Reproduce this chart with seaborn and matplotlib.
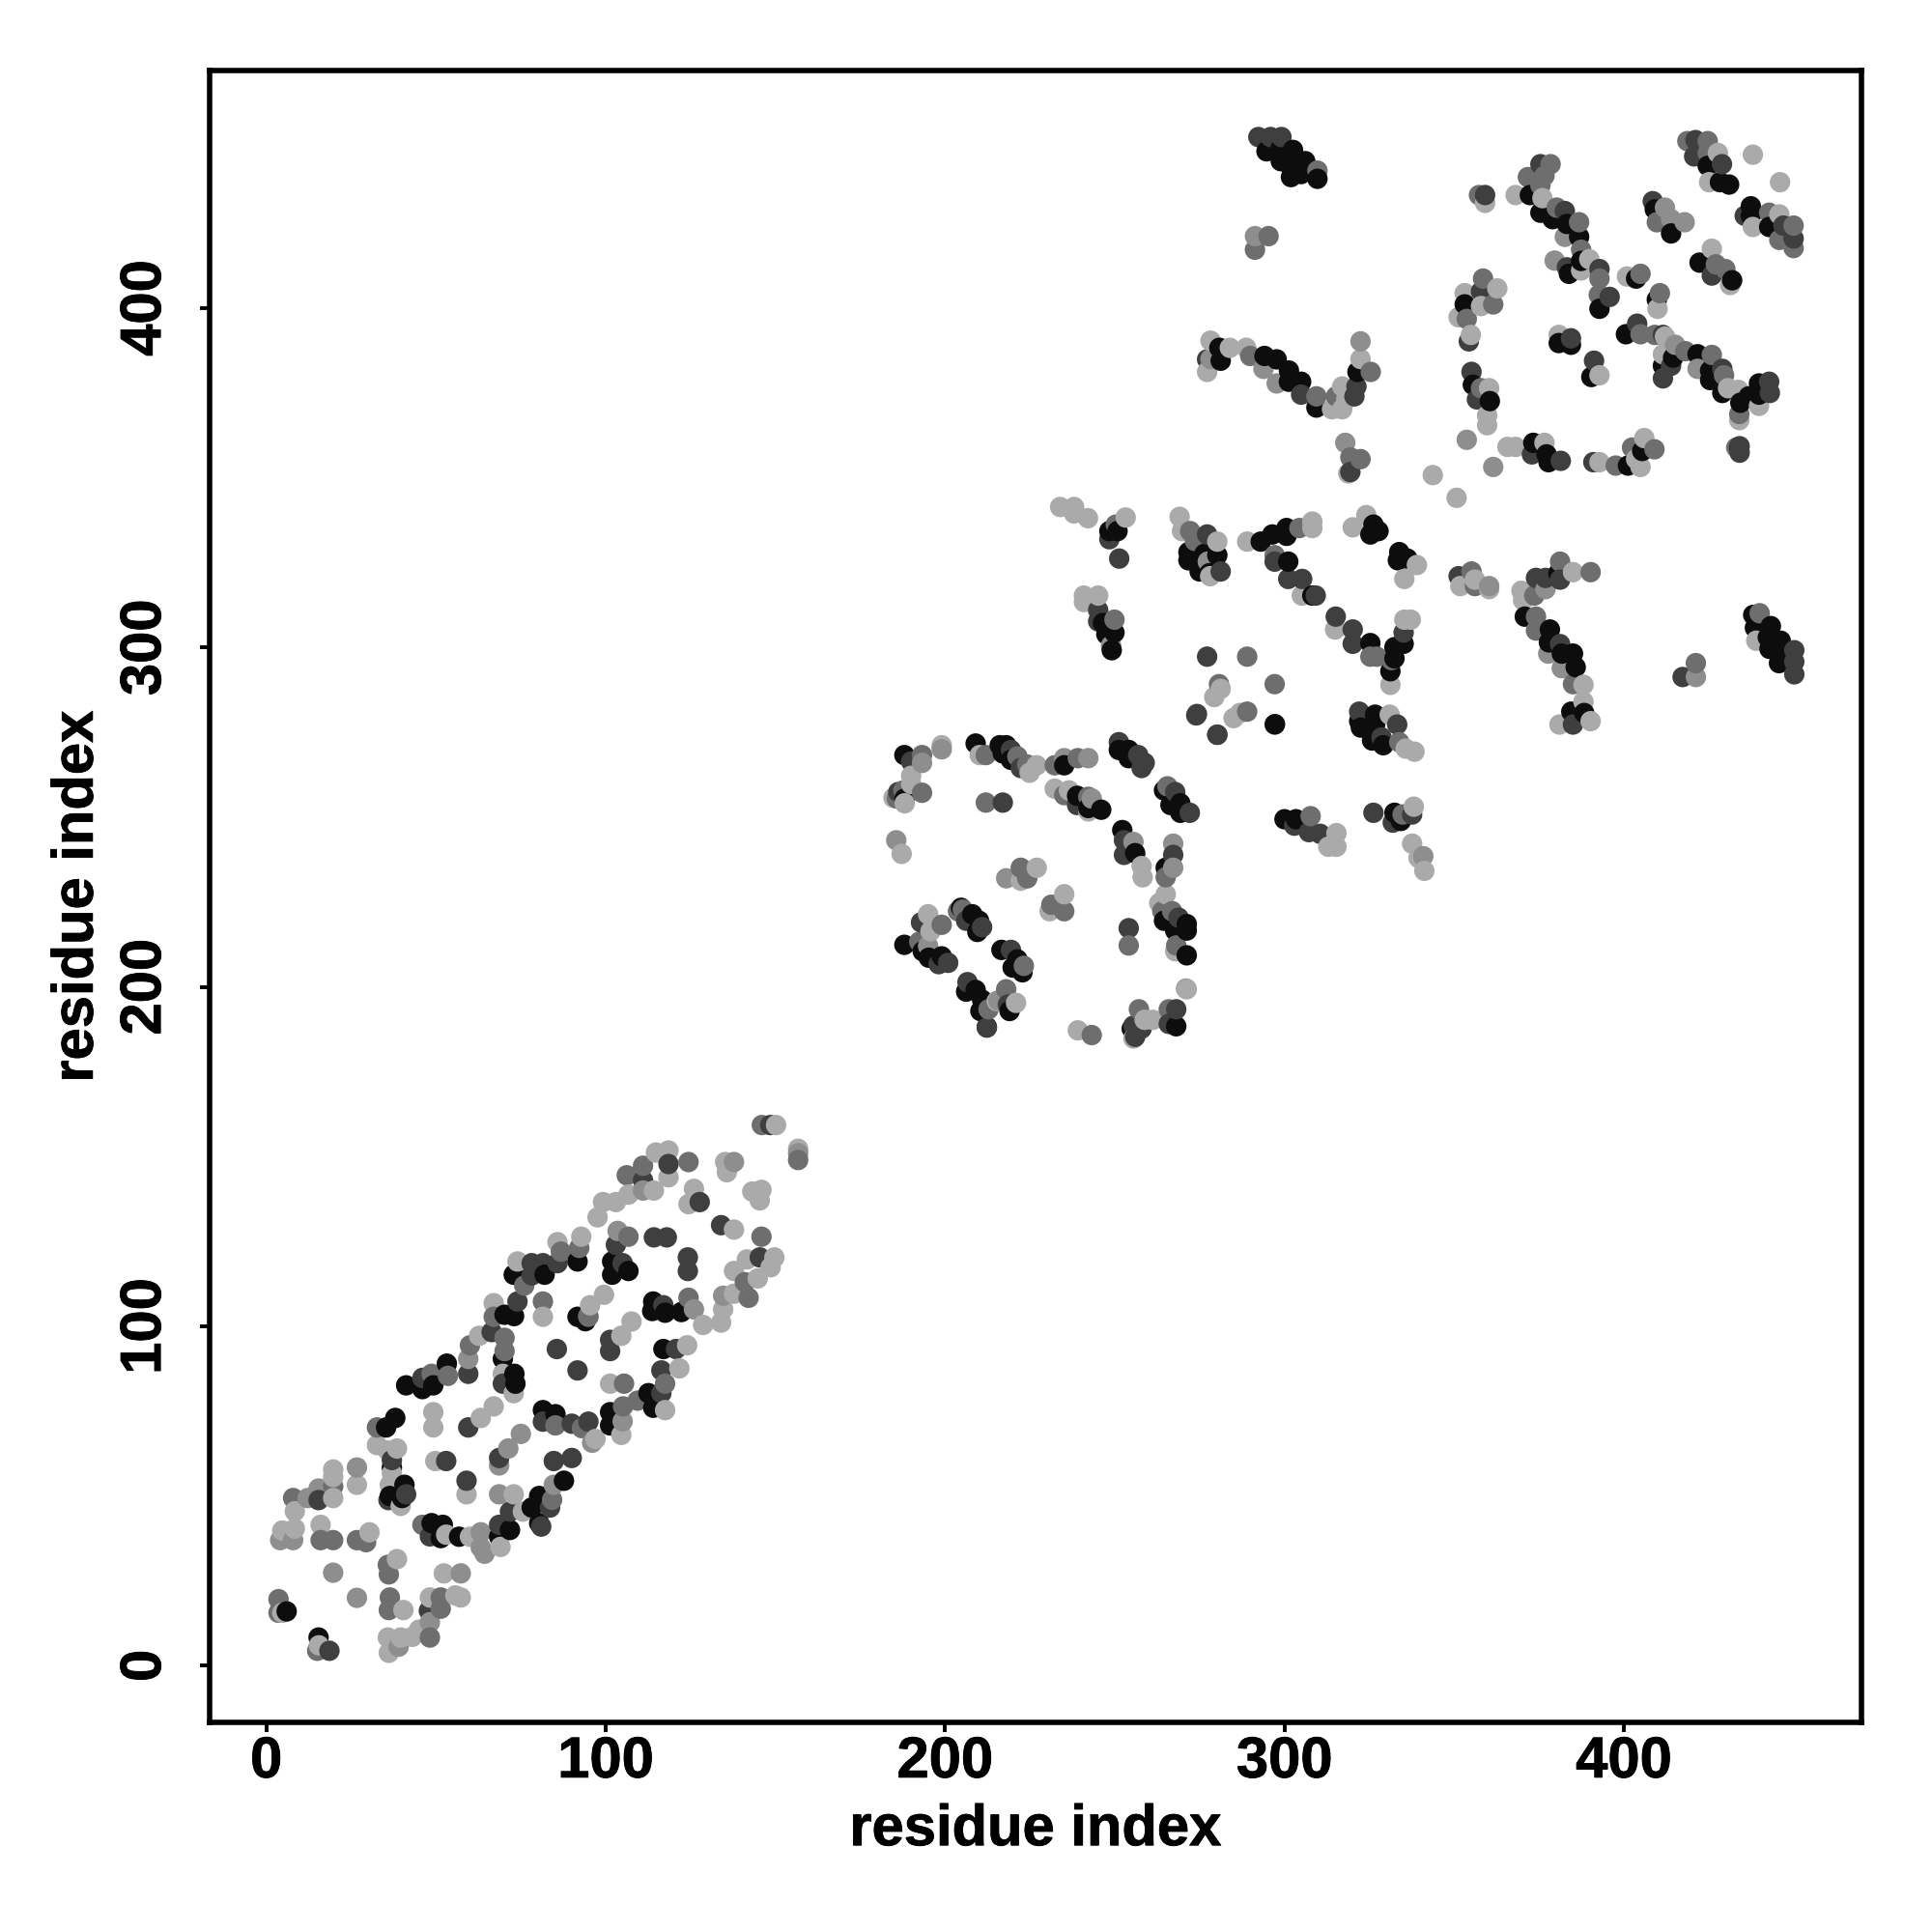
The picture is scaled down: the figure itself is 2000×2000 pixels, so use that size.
import pandas as pd
import matplotlib
matplotlib.use("Agg")
import matplotlib.pyplot as plt
import matplotlib.patheffects as pe
import seaborn as sns

sns.set_theme(style="white")
plt.rcParams['font.family'] = ['Liberation Sans', 'DejaVu Sans']

tick_values = [0, 100, 200, 300, 400]
axis_label = "residue index"

# contacts, one list per grey level
black_pts = [
    (6, 16), (15.4, 8.3), (35.3, 70.2), (38, 73), (37, 58.4), (36.4, 50), (40.7, 53.3), (40, 49.4),
    (48.7, 42), (52, 41.5), (51.4, 37.6), (56.8, 38), (68.6, 38), (71.8, 40), (80.4, 42), (78.2, 46.6),
    (80.4, 50), (87.7, 54.5), (41.2, 82.6), (46, 81.5), (49.2, 82.6), (53.2, 89), (69.7, 90.4),
    (73.1, 86), (73.4, 83.1), (70.2, 103.4), (73, 103), (72.9, 115.2), (82, 115.2), (91.7, 119.1),
    (91.7, 102.8), (94, 101.5), (81.5, 75.3), (85.2, 74.1), (101.3, 74.7), (101.3, 70.8), (112.6, 80.3),
    (114, 76), (117, 93.3), (114, 107.3), (113.7, 104.5), (117.5, 104), (122.3, 104.2), (101.9, 119.1),
    (106.7, 116.3), (101.9, 115.2), (188, 268.3), (188.1, 255.5), (209, 271.7), (216.1, 271.2),
    (218, 271.2), (217, 268.8), (219.4, 266.9), (235.1, 265.3), (238.9, 256.3), (242.2, 252.7),
    (246, 252.2), (251.2, 269.8), (254.1, 269.8), (254.1, 267.4), (264.5, 257.9), (266.4, 253.6),
    (269.3, 254.1), (269.3, 251.3), (252.2, 246.2), (256, 239.4), (265, 235.1), (264.5, 219.5),
    (267.8, 216.6), (271.2, 218.5), (271.2, 216.6), (271.2, 209.3), (255, 187.7), (268.1, 188.4),
    (204.7, 223.3), (208, 221.4), (210, 219.5), (209.5, 216.2), (188, 212.4), (193.4, 210.5),
    (195.2, 208.6), (199, 209), (216.6, 210.9), (221.3, 208.1), (222.8, 204.3), (219.9, 205.7),
    (206.2, 198.6), (209, 199.1), (210.9, 196.2), (210.4, 192.9), (212.3, 188.2), (219, 192.9),
    (300, 249.4), (303.4, 249.4), (297.2, 277.4), (248.4, 334.3), (250.8, 334.3), (246.5, 307.2),
    (247.5, 303.9), (249.9, 304.4), (249.1, 299.2), (271.7, 328.1), (271.7, 325.7), (276.4, 327.6),
    (280.2, 327.2), (275, 322.4), (277.9, 321.9), (293, 331.2), (296.4, 333.3), (300.6, 335.2),
    (300.6, 332.9), (301.1, 325.3), (308.2, 315.3), (325.3, 301.3), (331.2, 293), (332.4, 300.1),
    (332.4, 296.8), (335.1, 301.1), (326.2, 336.2), (327.7, 334.3), (325.3, 333.3), (333.8, 328.1),
    (336.2, 326.2), (333.4, 325.7), (322, 278.3), (326.7, 280.2), (326.7, 277.3), (322.5, 276.4),
    (325.8, 272.6), (329.1, 271.2), (332.4, 251.3), (334.3, 248.9), (294.7, 446.2), (298.9, 447.1),
    (302.5, 446.6), (298.9, 443.3), (301.9, 441.4), (306.1, 443.3), (304.9, 439.5), (301.9, 438.6),
    (309.7, 438.1), (280.8, 388.3), (281.2, 384.5), (294.1, 385.9), (297.7, 384.9), (301.3, 381.6),
    (304.9, 378.3), (301.3, 378.3), (309.4, 370.7), (321.5, 381.2), (353.1, 401.1), (355.5, 377.4),
    (360.5, 372.6), (373.3, 360.3), (377.2, 356.9), (377.8, 354.6), (401.2, 353.6), (405.4, 357.9),
    (434, 359), (372.3, 433.3), (375.4, 428.1), (379, 426.2), (383.2, 424.8), (386.8, 421),
    (387.4, 413.9), (383.8, 410.1), (392.8, 399.8), (403.6, 408.7), (409.7, 402.5), (380.8, 389.7),
    (384.4, 389.2), (390.4, 379.7), (400.6, 392.3), (414.5, 385.4), (411.5, 383), (421.7, 386.4),
    (425.4, 381.6), (425.4, 378.8), (429, 375), (434.3, 372.1), (439.8, 377.8), (439.8, 374.5),
    (436.8, 374), (424.7, 441.9), (428.3, 437.1), (431, 436.4), (409.1, 429.1), (413.9, 422),
    (422.3, 413.4), (431.9, 408.2), (437.4, 430), (437.4, 427.2), (442.8, 423.9), (380.7, 321.9),
    (370.8, 309.1), (378.2, 305.3), (377.9, 301.5), (381.7, 298.2), (385, 298.2), (385.8, 294.2),
    (384.5, 281.1), (388.3, 280.7), (438.1, 309.6), (443.3, 306.3), (438.6, 305.8), (446.2, 302),
    (442.9, 299.6), (446.2, 298.2), (445.7, 295.4), (442.4, 303),
]
dark_pts = [
    (15.4, 48.8), (18.6, 4.4), (37, 60.6), (36, 48.8), (41.2, 50.5), (48.2, 38.1), (47.9, 16.2),
    (68.6, 41.5), (71.8, 45.4), (81, 41), (83.6, 46.6), (59, 54.5), (53, 60.3), (68.6, 61.2),
    (84.7, 60.3), (90, 61.2), (59.5, 70.2), (46, 84.8), (59.5, 86), (66.4, 98.3), (69.7, 83.1),
    (74, 107.3), (78.2, 118.6), (78.2, 115), (81.5, 118.6), (85.8, 118.6), (85.6, 93.3), (91.7, 87),
    (101.3, 96), (101.3, 92.7), (81.5, 71.9), (90, 71.3), (94.9, 71.9), (116.4, 80.3), (116.4, 87),
    (120.7, 93.3), (117, 106.2), (105, 118.6), (114.2, 126.2), (118, 126.2), (103, 124), (124.2, 120.3),
    (124.2, 116.3), (134, 129.8), (145.4, 120.3), (111, 143), (118.5, 147.8), (127.7, 136.6),
    (148.5, 159.3), (190, 266.4), (186.2, 257.4), (217, 254.3), (219.4, 269.8), (222.3, 264.5),
    (238.9, 253.6), (251.2, 272.1), (256.9, 268.3), (258.8, 266), (257.9, 264.5), (267.8, 257.4),
    (272.1, 251.3), (252.7, 243.2), (252.7, 238.9), (267.2, 238.9), (268.8, 220.4), (254.1, 217.3),
    (268.1, 193.4), (255.5, 188.6), (256, 185.3), (265.9, 189.1), (257.9, 187.7), (210.9, 217.6),
    (206.2, 219.5), (192.9, 219), (198.1, 206.7), (200.9, 207.1), (219.4, 210.9), (206.6, 201.4),
    (218.5, 194.8), (212.3, 188), (274, 280), (280.2, 274.3), (307.2, 245.6), (310.5, 245.1),
    (302.9, 247.5), (248.4, 331.9), (251.3, 326.2), (245.1, 311), (245.1, 307.7), (277.2, 333.3),
    (281.2, 322.4), (297.1, 325.3), (301.1, 320.2), (305.2, 320.2), (309.2, 315.3), (315.1, 309.1),
    (320.1, 305.3), (320.1, 301.1), (335.1, 304.4), (277.2, 297.3), (274.2, 280.4), (280.2, 274.3),
    (297.1, 277.3), (322, 281.1), (328.6, 273.5), (333.2, 277.3), (326.2, 251.3), (331.9, 248.4),
    (337.6, 250.8), (292.3, 450.4), (295.9, 450.4), (299.1, 450.4), (277.2, 384.9), (304.9, 374.5),
    (321.2, 376.9), (320.6, 374), (319.4, 351.7), (357.9, 404.9), (354.3, 390.2), (355.1, 381.2),
    (356.7, 373.1), (372.9, 356.9), (381.4, 355), (391, 354.6), (434.1, 359.3), (434.1, 357.4),
    (359.1, 433.3), (375.4, 442.4), (382.6, 428.6), (392.8, 411.5), (383.2, 412), (395.8, 403.3),
    (384.4, 391.1), (391.2, 384.5), (403.9, 395.4), (411.5, 392.1), (413.9, 383), (411.5, 379.3),
    (429, 382.1), (442.8, 378.3), (443, 375), (421.1, 449.5), (420.7, 444.7), (428.9, 442.4),
    (408.5, 431.5), (425.9, 409.6), (435.6, 427.2), (447, 424.3), (450, 420.5), (351.3, 321),
    (374.1, 320.5), (376.9, 320.5), (381.2, 320), (381.2, 301), (385, 277.3), (417.3, 291.3),
    (450.2, 299.2), (450.2, 295.8), (450.2, 292.1),
]
mid_pts = [
    (3.6, 19.6), (3.6, 15.6), (15, 4.4), (35.8, 29.7), (36.1, 26.9), (36.4, 20.1), (36.1, 16.4),
    (51.4, 16.8), (51.4, 20.1), (48.2, 8.3), (16, 37), (19.7, 37), (26.7, 37), (29.4, 36.4),
    (7.9, 49.4), (19.7, 52.8), (32.6, 70.2), (46, 41.5), (84.2, 48.9), (60, 94.4), (48.7, 86),
    (53.5, 85.4), (70.2, 96.6), (70.2, 92.7), (67, 102.8), (81.5, 107.3), (76, 112), (86.8, 122),
    (92.2, 123.1), (94.9, 102.8), (85.2, 70.8), (93, 70), (105.4, 83.1), (105.1, 76.4), (109.4, 78.1),
    (117.5, 83.1), (124.4, 108.4), (106.7, 126.4), (145.9, 126.4), (141, 113), (142.1, 108.4),
    (106.2, 144.5), (111, 147.3), (124.4, 148.4), (146, 159.3), (156.7, 149), (193.2, 268.3),
    (187.7, 257.9), (185.8, 255.5), (193.2, 257.2), (212, 268.3), (212, 254.3), (221.3, 267.9),
    (224.2, 265.5), (232.3, 265.3), (239.1, 267.4), (235.1, 256.5), (242.2, 256), (265.5, 259.1),
    (265, 232.3), (222.3, 235.1), (224.2, 232), (231.3, 224.2), (235.1, 222.3), (264, 222.3),
    (266.9, 222.3), (254.1, 212.2), (268.1, 212.2), (257.1, 193.4), (265.9, 193.4), (243.2, 185.8),
    (205.2, 222.8), (203.8, 222.3), (199, 218.3), (192.4, 213.3), (223.2, 206.2), (212.8, 193.4),
    (218, 199.3), (307.7, 250.3), (250.3, 336.2), (249.9, 308.2), (272.2, 334.3), (273.6, 331.4),
    (304.4, 335.2), (297.1, 327.2), (325.3, 297.3), (327.2, 297.3), (331.5, 296.3), (289, 297.3),
    (297.1, 289.2), (280.7, 289.2), (289, 281.1), (333.8, 272.1), (334.8, 250.8), (295.3, 421.2),
    (291.3, 417.2), (309.7, 440.5), (289.9, 385.9), (309.4, 374), (325.4, 381.2), (315.2, 374),
    (319.4, 356), (322.4, 355.5), (358.5, 408.7), (361.5, 401.1), (353.7, 396.8), (357.9, 376.4),
    (397.6, 353.6), (402.4, 358.9), (409, 358.4), (433.1, 358.9), (357.3, 433.3), (371.7, 438.6),
    (378.4, 442.4), (376.6, 439), (375.4, 436.2), (380.2, 429.6), (386.8, 425.3), (387.4, 417.2),
    (392.6, 403.9), (392.8, 408.7), (404.9, 410.1), (410.6, 404.4), (404.9, 392.3), (409.1, 392.1),
    (418.1, 387.3), (425.9, 386.2), (429.5, 380.2), (434, 368.8), (418.7, 449.2), (424.7, 449.2),
    (424.7, 445.7), (409.7, 425.3), (427.1, 412.9), (429.9, 411.5), (442.8, 428.1), (450, 424.3),
    (445.8, 420.1), (450, 417.7), (355.1, 322.4), (356.1, 318.1), (381.2, 325.3), (390.2, 322.2),
    (373.6, 315.3), (374.1, 309.1), (374.1, 305), (385, 289.2), (421.2, 295.4), (440, 310.1),
]
grey_pts = [
    (12.2, 49.4), (15.4, 52.2), (4.1, 37), (7.9, 37), (26.7, 58.4), (19.7, 27.4), (26.7, 20),
    (48.2, 12.8), (39, 5.6), (57.3, 27.2), (63.2, 39.3), (63.2, 34.8), (64.3, 33), (84.7, 53.3),
    (68.6, 50.5), (71.3, 64), (75, 68.3), (68.6, 59), (96, 65.7), (59.5, 90.4), (94.9, 103), (126, 105),
    (103.5, 128.1), (105, 72), (134.6, 109), (111, 140), (137.8, 148.4), (156.7, 151), (193.2, 266),
    (199, 270), (243.2, 255.5), (235.1, 267.4), (242.2, 267.4), (185.6, 243.2), (255.5, 242.7),
    (267.2, 242.2), (267.2, 235.1), (218, 232), (195, 212), (215.7, 196), (271, 199.5), (277.4, 325.3),
    (248.9, 300.6), (291.3, 421.2), (278.2, 385), (293.8, 382.1), (297.7, 377.8), (322.4, 390.2),
    (317.9, 360.3), (353.7, 361.2), (361.5, 353.2), (382.6, 421), (379.6, 414), (412.1, 429.6),
    (413.9, 426.2), (417.9, 425.3), (415.1, 389.2), (421.7, 382.1), (360.3, 318.1), (376.9, 317.2),
    (377.7, 298.2), (381.7, 293.9), (421.2, 291.3), (340.9, 238.5),
]
light_pts = [
    (4.7, 15.6), (15.5, 6), (38.5, 31.4), (52.3, 27.2), (40.4, 16.4), (48.2, 20.1), (55.7, 20.7),
    (57.3, 20.1), (45, 10.6), (39.6, 8.3), (35.8, 8.3), (36.1, 3.8), (43, 8.5), (19.7, 57.8),
    (19.7, 55.6), (19.7, 49.4), (8.4, 45.5), (8.4, 40.4), (4.7, 39.8), (16, 41.5), (26.7, 53.3),
    (30.4, 39.3), (32.6, 65), (35.8, 63.4), (38.5, 64), (37, 56.7), (36.4, 53.3), (39.6, 47.1),
    (53, 38.6), (60, 38), (69, 35), (75.6, 45.4), (72.9, 50.5), (59, 50.5), (49.8, 60.3),
    (49.2, 74.7), (49.2, 70.2), (63.2, 73), (67, 76.4), (62.7, 97.2), (69.7, 86), (72.9, 80.3),
    (67, 106.8), (81.5, 102.8), (74, 119.1), (85.8, 124.8), (92.8, 126.4), (95.4, 106.2),
    (99.5, 109.3), (104.6, 97.2), (107.6, 101.4), (101.3, 83.1), (97, 66.8), (104.6, 68), (117.5, 75.3),
    (121.7, 87.6), (124, 94.4), (128.7, 100.4), (134, 101.1), (97.6, 132.1), (99.2, 136.6),
    (137.8, 128.5), (137.8, 116.3), (141.6, 119.7), (149.7, 120.3), (144.8, 114.1), (148.6, 117.4),
    (137.8, 109.6), (134.6, 105), (103, 136.6), (106.7, 138.8), (114.2, 140), (114.8, 151.2),
    (118.5, 151.8), (118.5, 143.9), (135.2, 148.4), (135.7, 145.4), (126, 140.5), (124.4, 136),
    (143.2, 139.7), (145.9, 140.2), (145.4, 137.1), (150.2, 159.3), (156.7, 152.3), (199, 271.2),
    (190, 262.2), (190, 259.8), (184.8, 255.7), (188.1, 254.1), (210.2, 268.3), (224.9, 263.1),
    (227, 265.3), (232.3, 258.4), (236.5, 257.9), (242.2, 251.7), (187.2, 239.2), (257.9, 235.6),
    (258.2, 232.3), (227, 235.1), (222.3, 231.3), (235.1, 227.3), (230.8, 222.3), (265, 227.3),
    (263.1, 224.7), (267.8, 210.5), (271.2, 199.3), (261.2, 190.3), (258.8, 190.3), (255.5, 184.8),
    (239.1, 187.2), (195, 221.4), (195.7, 216.4), (215.2, 195.8), (220.9, 195.3), (315.3, 245.3),
    (312.9, 241.3), (315.3, 241.3), (233.9, 341.4), (238, 341.4), (238, 339.5), (242.1, 338.1),
    (253.2, 338.3), (240.9, 315.3), (245.1, 315.3), (240.9, 313.4), (269.1, 338.5), (269.8, 334.3),
    (280.2, 331.2), (278.1, 321), (289, 331.2), (308.2, 337.1), (308.2, 335.2), (305.1, 315.3),
    (314.9, 305.3), (331.2, 289), (335.3, 308.2), (337.2, 308.2), (320.1, 335.4), (324.1, 339),
    (339, 324.3), (335.3, 320.2), (281.2, 287.8), (279.3, 285.4), (286.9, 280.7), (285, 279.2),
    (331, 280.2), (335.7, 270.2), (338.3, 269.3), (338.1, 253.1), (337.6, 242.2), (339.5, 238),
    (341.2, 234.2), (278.2, 390.4), (283.9, 388.3), (277.2, 381.2), (288.7, 388.3), (322.4, 385),
    (317, 376.9), (317, 370.2), (314, 370.2), (318.2, 373.1), (318.8, 351.3), (343.7, 350.8),
    (350.7, 344.1), (353.1, 404.4), (362.7, 405.8), (357.9, 400.6), (351.3, 397.3), (354.9, 392.1),
    (360.3, 376.4), (359.7, 368.4), (359.7, 365.5), (365.7, 359.1), (368.1, 359.1), (376.6, 360.3),
    (392.8, 354.6), (404.9, 353.2), (406, 361.7), (403.6, 355.5), (359.1, 431), (368.1, 433.3),
    (376, 432.4), (389.8, 414.4), (387.4, 411.1), (400.9, 409.3), (409.9, 399.8), (380.8, 392.1),
    (392.8, 380.2), (412.1, 391.6), (411.5, 386.4), (430.7, 376.4), (433.7, 375.9), (434, 367),
    (439.8, 371.2), (427.7, 445.7), (425.1, 437.1), (438, 445.2), (446, 437.1), (425.9, 417.5),
    (431.3, 406.8), (438, 423.9), (445.8, 427.6), (351.8, 318.1), (356.1, 320), (360.3, 317.2),
    (385, 322.2), (369.8, 316.7), (370.3, 313.9), (388.1, 289), (388.1, 284), (381, 277.3),
    (390.2, 278.3), (439, 302),
]

shades = ["#0d0d0d", "#3f3f3f", "#6e6e6e", "#8e8e8e", "#aaaaaa"]
groups = [black_pts, dark_pts, mid_pts, grey_pts, light_pts]

frames = []
for shade, pts in zip(shades, groups):
    part = pd.DataFrame(pts, columns=["i", "j"])
    part["shade"] = shade
    frames.append(part)
# points go on in residue order, later residues cover earlier ones
df = pd.concat(frames, ignore_index=True).sort_values("i")

fig = plt.figure(figsize=(10, 10), dpi=200)
ax = fig.add_axes([0.1085, 0.1085, 0.855, 0.855])
sns.scatterplot(data=df, x="i", y="j", hue="shade", hue_order=shades, palette=shades,
                s=58, linewidth=0, legend=False, ax=ax)

ax.set_xlim(-16.7, 470)
ax.set_ylim(-16.7, 470)
ax.set_xticks(tick_values)
ax.set_yticks(tick_values)
ax.tick_params(length=3.5, width=1.4, color="black", labelsize=21.5, labelcolor="black",
               bottom=True, left=True)
ax.tick_params(axis="x", pad=1.5)
ax.tick_params(axis="y", pad=10.5)

# the original type is heavier than Liberation bold, a thin outline brings it closer
heavy = [pe.withStroke(linewidth=0.3, foreground="black")]
for lab in ax.get_xticklabels() + ax.get_yticklabels():
    lab.set_fontweight("bold")
    lab.set_path_effects(heavy)
for lab in ax.get_yticklabels():
    lab.set_rotation(90)
    lab.set_va("center")
ax.set_xlabel(axis_label, fontsize=21.5, fontweight="bold", color="black", labelpad=5.5,
              path_effects=heavy)
ax.set_ylabel(axis_label, fontsize=21.5, fontweight="bold", color="black", labelpad=5.5,
              path_effects=heavy)
for spine in ax.spines.values():
    spine.set_visible(True)
    spine.set_color("black")
    spine.set_linewidth(2.0)

fig.savefig("out.png", dpi=200)
